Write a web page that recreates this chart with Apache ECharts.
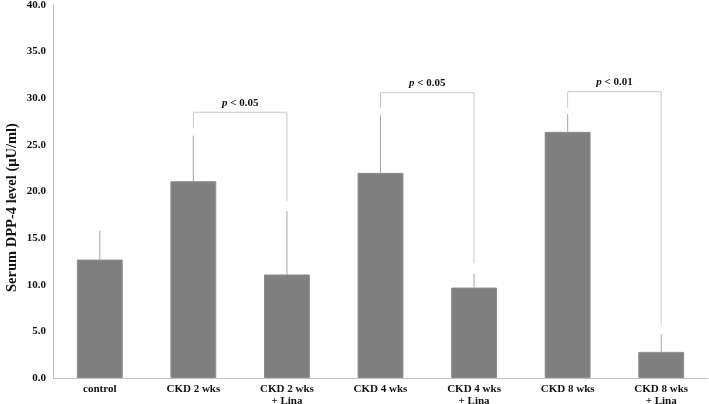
<!DOCTYPE html>
<html>
<head>
<meta charset="utf-8">
<script src="https://cdn.jsdelivr.net/npm/echarts@6/dist/echarts.min.js"></script>
<style>
  html, body { margin: 0; padding: 0; background: #fff; }
  #chart { width: 709px; height: 404px; }
</style>
</head>
<body>
<div id="chart"></div>
<script>
  // groups and measured values
  var categories = ['control', 'CKD 2 wks', 'CKD 2 wks\n+ Lina', 'CKD 4 wks', 'CKD 4 wks\n+ Lina', 'CKD 8 wks', 'CKD 8 wks\n+ Lina']
  var meanValues = [12.7, 21.1, 11.1, 22.0, 9.7, 26.4, 2.8]
  var errorTops = [15.8, 26.0, 17.9, 28.2, 11.2, 28.3, 4.7]

  // significance brackets: [left index, right index, top, left leg end, right leg end]
  var bracketLeft = [1, 3, 5]
  var bracketRight = [2, 4, 6]
  var bracketTop = [28.5, 30.6, 30.7]
  var bracketLeftEnd = [26.8, 28.9, 29.0]
  var bracketRightEnd = [19.0, 12.3, 5.7]
  var bracketLabels = ['0.05', '0.05', '0.01']

  var serif = 'Liberation Serif, Times New Roman, serif'
  var chart = echarts.init(document.getElementById('chart'))

  var errorData = errorTops.map(function (v, i) { return [i, meanValues[i], v] })
  var bracketData = bracketLeft.map(function (l, i) {
    return [l, bracketRight[i], bracketTop[i], bracketLeftEnd[i], bracketRightEnd[i], i]
  })

  chart.setOption({
    animation: false,
    grid: { left: 53, right: 1, top: 5, bottom: 26, containLabel: false, outerBoundsMode: 'none' },
    xAxis: {
      type: 'category',
      data: categories,
      axisLine: { lineStyle: { color: '#bfbfbf' } },
      axisTick: { show: false },
      axisLabel: {
        color: '#111',
        fontFamily: serif,
        fontWeight: 'bold',
        fontSize: 11,
        lineHeight: 12,
        margin: 5
      }
    },
    yAxis: {
      type: 'value',
      min: 0,
      max: 40,
      interval: 5,
      name: 'Serum DPP-4 level (μU/ml)',
      nameLocation: 'middle',
      nameGap: 33,
      nameMoveOverlap: false,
      nameTextStyle: {
        color: '#111',
        fontFamily: serif,
        fontWeight: 'bold',
        fontSize: 14.5,
        padding: [0, 32, 0, 0]
      },
      splitLine: { show: false },
      axisLine: { show: true, lineStyle: { color: '#bfbfbf' } },
      axisTick: { show: false },
      axisLabel: {
        color: '#111',
        fontFamily: serif,
        fontWeight: 'bold',
        fontSize: 11,
        margin: 7,
        formatter: function (v) { return v.toFixed(1) }
      }
    },
    series: [
      {
        type: 'bar',
        data: meanValues,
        barWidth: '49%',
        itemStyle: { color: '#7f7f7f', borderColor: '#8c8c8c', borderWidth: 1 }
      },
      {
        type: 'custom',
        data: errorData,
        renderItem: function (params, api) {
          var base = api.coord([api.value(0), api.value(1)])
          var top = api.coord([api.value(0), api.value(2)])
          return {
            type: 'line',
            shape: { x1: base[0], y1: base[1], x2: top[0], y2: top[1] },
            style: { stroke: '#a6a6a6', lineWidth: 1 }
          }
        },
        z: 1
      },
      {
        type: 'custom',
        data: bracketData,
        renderItem: function (params, api) {
          var a = api.coord([api.value(0), api.value(2)])
          var b = api.coord([api.value(1), api.value(2)])
          var la = api.coord([api.value(0), api.value(3)])
          var rb = api.coord([api.value(1), api.value(4)])
          var idx = api.value(5)
          return {
            type: 'group',
            children: [
              {
                type: 'polyline',
                shape: { points: [[la[0], la[1]], [a[0], a[1]], [b[0], b[1]], [rb[0], rb[1]]] },
                style: { stroke: '#c8c8c8', lineWidth: 1, fill: null }
              },
              {
                type: 'text',
                x: (a[0] + b[0]) / 2,
                y: a[1] - 4,
                style: {
                  text: '{i|p} < ' + bracketLabels[idx],
                  rich: {
                    i: { fontStyle: 'italic', fontWeight: 'bold', fontFamily: serif, fontSize: 11, fill: '#111' }
                  },
                  fontFamily: serif,
                  fontWeight: 'bold',
                  fontSize: 11,
                  fill: '#111',
                  align: 'center',
                  verticalAlign: 'bottom'
                }
              }
            ]
          }
        }
      }
    ]
  })
</script>
</body>
</html>
